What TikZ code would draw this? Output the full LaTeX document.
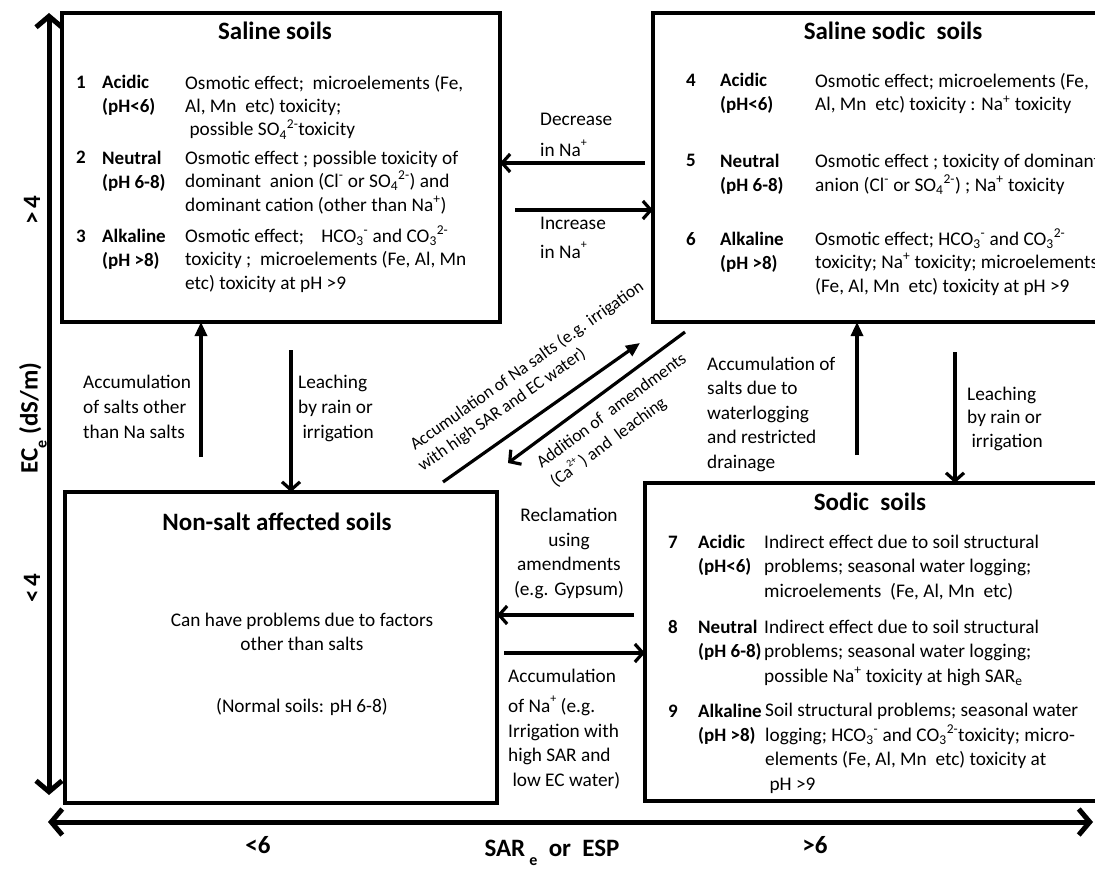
\documentclass[tikz,border=0pt]{standalone}
\usepackage{fontspec}
\setmainfont{Carlito}
\usetikzlibrary{arrows.meta,calc}
\newcommand\sub[1]{\textsubscript{#1}}
\newcommand\sps[1]{\textsuperscript{#1}}
\newcommand\hiplus{\raisebox{10pt}{\fontsize{12}{14}\selectfont +}}
\newcommand\lowe{\raisebox{-9pt}{\fontsize{16}{18}\selectfont e}}
\tikzset{
 box/.style={draw, line width=3.5pt, inner sep=0pt, outer sep=0pt, anchor=north west},
 ttl/.style={font=\fontsize{25}{30}\selectfont\bfseries, anchor=base, inner sep=0pt},
 bt/.style={font=\fontsize{19.3}{23.5}\selectfont, align=left, anchor=base west, inner sep=0pt},
 btw/.style={bt, font=\fontsize{19.3}{25}\selectfont},
 bts/.style={bt, font=\fontsize{19.3}{24.5}\selectfont},
 lb/.style={bt, font=\fontsize{19}{24}\selectfont\bfseries},
 dg/.style={font=\fontsize{17.5}{20}\selectfont, inner sep=0pt, anchor=center},
 conn/.style={line width=3.2pt},
 barb/.style={conn, -{Straight Barb[length=8pt,width=18pt]}},
 tri/.style={conn, -{Triangle[length=14pt,width=12pt]}},
 axis/.style={line width=5pt, {Straight Barb[length=11pt,width=26pt]}-{Straight Barb[length=11pt,width=26pt]}},
 axl/.style={font=\fontsize{25}{30}\selectfont\bfseries, inner sep=0pt},
}
\begin{document}
\begin{tikzpicture}[x=1pt,y=-1pt]
\useasboundingbox (0,0) rectangle (1095,872);
\clip (0,0) rectangle (1095,872);
% boxes
\node[box, minimum width=438pt, minimum height=309pt] (saline) at (62,13) {};
\node[box, minimum width=460pt, minimum height=309pt] (salsod) at (653,13) {};
\node[box, minimum width=432pt, minimum height=311pt] (nonsalt) at (65,492) {};
\node[box, minimum width=470pt, minimum height=318pt] (sodic) at (645,483) {};
% titles
\node[ttl] (tsal) at (275,40) {Saline soils};
\node[ttl] (tss) at (893,40) {Saline sodic\ \ soils};
\node[ttl] (tns) at (277,530) {Non-salt affected soils};
\node[ttl] (tsod) at (870,510) {Sodic\ \ soils};
% saline rows (anchor = baseline of last line)
\node[lb] (n1) at (76,89) {1};
\node[lb] (l1) at (102,113) {Acidic\\(pH<6)};
\node[bt] (d1) at (185,136) {Osmotic effect;\ \ microelements (Fe,\\Al, Mn\ \ etc) toxicity;\\\ possible SO\sub{4}\sps{2-}toxicity};
\node[lb] (n2) at (76,164) {2};
\node[lb] (l2) at (102,188) {Neutral\\(pH 6-8)};
\node[bt] (d2) at (185,211) {Osmotic effect ; possible toxicity of\\dominant\ \ anion (Cl\sps{-} or SO\sub{4}\sps{2-}) and\\dominant cation (other than Na\sps{+})};
\node[lb] (n3) at (76,242) {3};
\node[lb] (l3) at (102,266) {Alkaline\\(pH >8)};
\node[bt] (d3) at (185,289) {Osmotic effect;\ \ \ \ HCO\sub{3}\sps{-} and CO\sub{3}\sps{2-}\\toxicity ;\ \ microelements (Fe, Al, Mn\\etc) toxicity at pH >9};
% saline sodic rows
\node[lb] (n4) at (686,87) {4};
\node[lb] (l4) at (720,111) {Acidic\\(pH<6)};
\node[bt] (d4) at (815,111) {Osmotic effect; microelements (Fe,\\Al, Mn\ \ etc) toxicity : Na\sps{+} toxicity};
\node[lb] (n5) at (686,167) {5};
\node[lb] (l5) at (720,191) {Neutral\\(pH 6-8)};
\node[bt] (d5) at (815,191) {Osmotic effect ; toxicity of dominant\\anion (Cl\sps{-} or SO\sub{4}\sps{2-}) ; Na\sps{+} toxicity};
\node[lb] (n6) at (686,245) {6};
\node[lb] (l6) at (720,269) {Alkaline\\(pH >8)};
\node[bt] (d6) at (815,292) {Osmotic effect; HCO\sub{3}\sps{-} and CO\sub{3}\sps{2-}\\toxicity; Na\sps{+} toxicity; microelements\\(Fe, Al, Mn\ \ etc) toxicity at pH >9};
% sodic rows
\node[lb] (n7) at (668,548) {7};
\node[lb] (l7) at (698,572) {Acidic\\(pH<6)};
\node[bts] (d7) at (764,597) {Indirect effect due to soil structural\\problems; seasonal water logging;\\microelements\ \ (Fe, Al, Mn\ \ etc)};
\node[lb] (n8) at (668,633) {8};
\node[lb] (l8) at (698,657) {Neutral\\(pH 6-8)};
\node[bts] (d8) at (764,682) {Indirect effect due to soil structural\\problems; seasonal water logging;\\possible Na\sps{+} toxicity at high SAR\sub{e}};
\node[lb] (n9) at (668,717) {9};
\node[lb] (l9) at (698,741) {Alkaline\\(pH >8)};
\node[bts] (d9) at (765,790) {Soil structural problems; seasonal water\\logging; HCO\sub{3}\sps{-} and CO\sub{3}\sps{2-}toxicity; micro-\\elements (Fe, Al, Mn\ \ etc) toxicity at\\\ pH >9};
% non-salt texts
\node[bt, align=center, anchor=base] (nsa) at (302,650) {Can have problems due to factors\\other than salts};
\node[bt, anchor=base] (nsb) at (302,712) {(Normal soils: pH 6-8)};
% middle texts
\node[bt] (dec) at (540,157) {Decrease\\[8pt]in Na\hiplus};
\node[bt] (inc) at (540,258) {Increase\\[5pt]in Na\hiplus};
\node[btw] (accl) at (83,438) {Accumulation\\of salts other\\than Na salts};
\node[btw] (leal) at (298,438) {Leaching\\by rain or\\\ irrigation};
\node[bts] (accr) at (707,468) {Accumulation of\\salts due to\\waterlogging\\and restricted\\drainage};
\node[bt] (lear) at (967,447) {Leaching\\by rain or\\\ irrigation};
\node[bts, align=center, anchor=base] (recl) at (569,595) {Reclamation\\using\\amendments\\(e.g. Gypsum)};
\node[bts] (accn) at (508,786) {Accumulation\\[6pt]of Na\hiplus\ (e.g.\\Irrigation with\\high SAR and\\\ low EC water)};
% diagonal texts
\node[dg, rotate=35.2] (g1a) at (527,366) {Accumulation of Na salts (e.g. irrigation};
\node[dg, rotate=35.2] (g1b) at (502,410) {with high SAR and EC water)};
\node[dg, rotate=36.5] (g2a) at (611,410) {Addition of\ \ amendments};
\node[dg, rotate=36.5] (g2b) at (608,442) {(Ca\raisebox{8pt}{\fontsize{10}{12}\selectfont 2+}\,) and\ \ leaching};
% axis labels
\node[axl, rotate=90] (gt4) at (32,210) {>\,4};
\node[axl, rotate=90] (ece) at (33,418) {EC\lowe\ (dS/m)};
\node[axl, rotate=90] (lt4) at (32,588) {<\,4};
\node[axl] (lt6) at (258,845) {<6};
\node[axl] (gt6) at (815,845) {>6};
\node[axl] (sar) at (552,853) {SAR\,\lowe\ \ or\ \ ESP};
% connectors
\coordinate (a1) at (201,457); \draw[tri] (a1) -- (a1 |- saline.south);
\coordinate (a2) at (291,350); \draw[barb] (a2) -- (a2 |- nonsalt.north);
\coordinate (a3) at (857,455); \draw[tri] (a3) -- (a3 |- salsod.south);
\coordinate (a4) at (955,352); \draw[barb] (a4) -- (a4 |- sodic.north);
\coordinate (h1) at (645,163); \draw[barb] (h1) -- (h1 -| saline.east);
\coordinate (h2) at (515,210); \draw[barb] (h2) -- (h2 -| salsod.west);
\coordinate (h3) at (634,615); \draw[barb] (h3) -- (h3 -| nonsalt.east);
\coordinate (h4) at (504,653); \draw[barb] (h4) -- (h4 -| sodic.west);
\coordinate (g1s) at (443,482); \coordinate (g1e) at (640,343); \draw[tri] (g1s) -- (g1e);
\coordinate (g2s) at (685,332); \coordinate (g2e) at (508,463); \draw[barb] (g2s) -- (g2e);
% axes
\coordinate (yt) at (49,13); \coordinate (yb) at (49,795); \draw[axis] (yt) -- (yb);
\coordinate (xl) at (48,822); \coordinate (xr) at (1093,822); \draw[axis] (xl) -- (xr);
\end{tikzpicture}
\end{document}
